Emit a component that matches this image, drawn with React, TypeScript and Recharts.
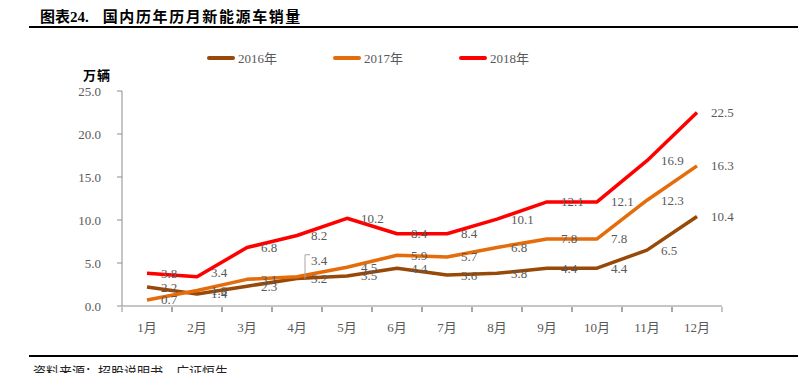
import React from "react";
import { LineChart, Line, XAxis, YAxis, LabelList } from "recharts";

const months = ["1月", "2月", "3月", "4月", "5月", "6月", "7月", "8月", "9月", "10月", "11月", "12月"];
const sales2016 = [2.2, 1.4, 2.3, 3.2, 3.5, 4.4, 3.6, 3.8, 4.4, 4.4, 6.5, 10.4];
const sales2017 = [0.7, 1.8, 3.1, 3.4, 4.5, 5.9, 5.7, 6.8, 7.8, 7.8, 12.3, 16.3];
const sales2018 = [3.8, 3.4, 6.8, 8.2, 10.2, 8.4, 8.4, 10.1, 12.1, 12.1, 16.9, 22.5];
const yTicks = [0, 5, 10, 15, 20, 25];

const series = [
  { key: "y2016", name: "2016年", color: "#984807" },
  { key: "y2017", name: "2017年", color: "#E46C0A" },
  { key: "y2018", name: "2018年", color: "#FF0000" },
];

const data = months.map((m, i) => ({
  month: m,
  y2016: sales2016[i],
  y2017: sales2017[i],
  y2018: sales2018[i],
}));

const SERIF = "'Liberation Serif', 'Times New Roman', 'Noto Sans CJK SC', serif";
const GREY = "#595959";
const AXIS = "#8c8c8c";

// plot area: 122..722 horizontally, 12 months -> 50px per month
const HALF_STEP = 25;

// a few labels were dragged in the original, with leader lines
const labelNudge: Record<string, Record<number, number>> = {
  y2017: { 3: -16 },
  y2018: { 1: -4 },
};

const MonthTick = (props: any) => {
  const { x, y, payload } = props;
  const axisY = y - 7;
  return (
    <g>
      <line x1={x + HALF_STEP} y1={axisY} x2={x + HALF_STEP} y2={axisY + 5} stroke={AXIS} />
      <line x1={x - HALF_STEP} y1={axisY} x2={x - HALF_STEP} y2={axisY + 5} stroke={AXIS} />
      <text x={x} y={axisY + 25} textAnchor="middle" fill={GREY} fontSize={13} fontFamily={SERIF}>
        {payload.value}
      </text>
    </g>
  );
};

const makeLabel = (key: string) => (props: any) => {
  const { x, y, value, index } = props;
  const dy = labelNudge[key]?.[index] ?? 0;
  const lx = x + 14;
  const ly = y + dy;
  return (
    <g>
      {dy < -8 && (
        <polyline
          points={`${lx - 6},${y + 2} ${lx - 6},${ly - 6} ${lx - 1},${ly - 6}`}
          fill="none"
          stroke="#a6a6a6"
          strokeWidth={1}
        />
      )}
      <text x={lx} y={ly} dy={4.5} fill={GREY} fontSize={13} fontFamily={SERIF} textAnchor="start">
        {Number(value).toFixed(1)}
      </text>
    </g>
  );
};

const App = () => {
  return (
    <div style={{ position: "absolute", left: 0, top: 0, width: 798, height: 373, background: "#fff", fontFamily: SERIF, overflow: "hidden" }}>
      <div style={{ position: "absolute", left: 40, top: 5, fontSize: 15, fontWeight: "bold", color: "#000", whiteSpace: "pre", fontFamily: SERIF }}>
        <span>图表24.</span>
        <span style={{ marginLeft: 14, letterSpacing: 1.6 }}>国内历年历月新能源车销量</span>
      </div>
      <div style={{ position: "absolute", left: 29, top: 26, width: 769, height: 2, background: "#000" }} />

      <div style={{ position: "absolute", left: 207, top: 48, display: "flex", alignItems: "center" }}>
        {series.map((s) => (
          <div key={s.key} style={{ display: "flex", alignItems: "center", width: 126 }}>
            <div style={{ width: 28, height: 4, borderRadius: 2, background: s.color, marginRight: 3 }} />
            <span style={{ fontSize: 13, color: GREY, fontFamily: SERIF }}>{s.name}</span>
          </div>
        ))}
      </div>

      <div style={{ position: "absolute", left: 83, top: 65, fontSize: 13, color: "#000", fontWeight: "bold", letterSpacing: 1, fontFamily: SERIF }}>
        万辆
      </div>

      <div style={{ position: "absolute", left: 0, top: 0 }}>
        <LineChart width={798} height={373} data={data} margin={{ top: 91, right: 76, bottom: 37, left: 0 }}>
          <XAxis
            dataKey="month"
            padding={{ left: HALF_STEP, right: HALF_STEP }}
            axisLine={{ stroke: AXIS }}
            tickLine={false}
            tick={<MonthTick />}
            interval={0}
            height={30}
          />
          <YAxis
            domain={[0, 25]}
            ticks={yTicks}
            width={122}
            axisLine={{ stroke: AXIS }}
            tickLine={{ stroke: AXIS }}
            tickSize={5}
            tickMargin={16}
            tickFormatter={(v: number) => v.toFixed(1)}
            tick={{ fill: GREY, fontSize: 13, fontFamily: SERIF }}
          />
          {series.map((s) => (
            <Line
              key={s.key}
              dataKey={s.key}
              name={s.name}
              stroke={s.color}
              strokeWidth={3.5}
              dot={false}
              isAnimationActive={false}
              strokeLinejoin="round"
            >
              <LabelList dataKey={s.key} content={makeLabel(s.key)} />
            </Line>
          ))}
        </LineChart>
      </div>

      <div style={{ position: "absolute", left: 29, top: 355, width: 769, height: 2, background: "#000" }} />
      <div style={{ position: "absolute", left: 33, top: 361, fontSize: 13, color: "#222", fontFamily: SERIF, whiteSpace: "pre" }}>
        资料来源：招股说明书，广证恒生
      </div>
    </div>
  );
};

export default App;
